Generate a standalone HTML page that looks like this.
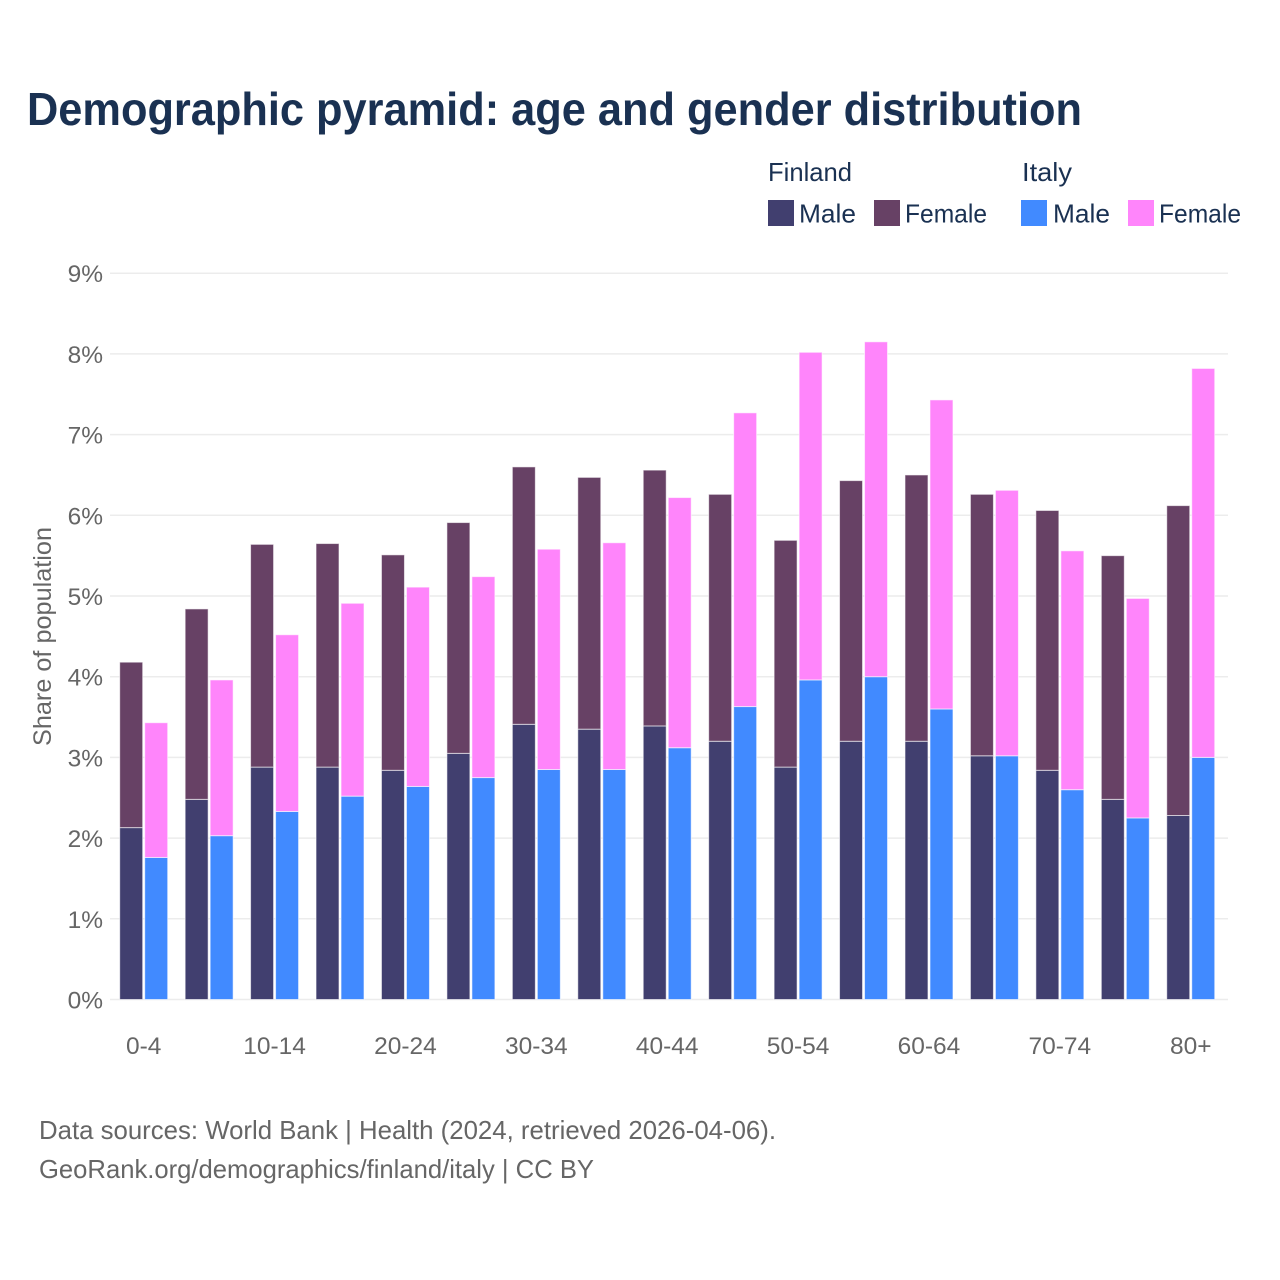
<!DOCTYPE html>
<html lang="en">
<head>
<meta charset="utf-8">
<title>Demographic pyramid</title>
<style>
html,body{margin:0;padding:0;background:#fff;width:1280px;height:1280px;overflow:hidden}
svg{display:block;font-family:"Liberation Sans",sans-serif}
.legend{fill:#1a3152;font-size:26px}
.tick{fill:#666;font-size:24.5px}
.foot{fill:#666;font-size:26px}
</style>
</head>
<body>
<svg id="chart" width="1280" height="1280" viewBox="0 0 1280 1280" xmlns="http://www.w3.org/2000/svg">
  <rect width="1280" height="1280" fill="#fff"/>
  <text x="27" y="125" font-size="46" font-weight="700" fill="#1a3152" textLength="1055" lengthAdjust="spacingAndGlyphs">Demographic pyramid: age and gender distribution</text>
  <g>
    <text class="legend" x="768" y="181" textLength="84" lengthAdjust="spacingAndGlyphs">Finland</text>
    <text class="legend" x="1022" y="181" textLength="50" lengthAdjust="spacingAndGlyphs">Italy</text>
    <rect x="768" y="200" width="26" height="26" fill="#413f6f"/>
    <text class="legend" x="799" y="222.5" textLength="57" lengthAdjust="spacingAndGlyphs">Male</text>
    <rect x="874" y="200" width="26" height="26" fill="#674165"/>
    <text class="legend" x="905" y="222.5" textLength="82" lengthAdjust="spacingAndGlyphs">Female</text>
    <rect x="1021" y="200" width="26" height="26" fill="#418aff"/>
    <text class="legend" x="1053" y="222.5" textLength="57" lengthAdjust="spacingAndGlyphs">Male</text>
    <rect x="1128" y="200" width="26" height="26" fill="#ff85fb"/>
    <text class="legend" x="1159" y="222.5" textLength="82" lengthAdjust="spacingAndGlyphs">Female</text>
  </g>
  <g id="grid"></g>
  <g id="bars"></g>
  <g id="yticks"></g>
  <g id="xticks"></g>
  <text transform="translate(51,636.5) rotate(-90)" text-anchor="middle" font-size="25" fill="#666" textLength="219" lengthAdjust="spacingAndGlyphs">Share of population</text>
  <text class="foot" x="39" y="1139" textLength="737" lengthAdjust="spacingAndGlyphs">Data sources: World Bank | Health (2024, retrieved 2026-04-06).</text>
  <text class="foot" x="39" y="1178" textLength="555" lengthAdjust="spacingAndGlyphs">GeoRank.org/demographics/finland/italy | CC BY</text>
</svg>
<script>
const categories = ['0-4','5-9','10-14','15-19','20-24','25-29','30-34','35-39','40-44','45-49','50-54','55-59','60-64','65-69','70-74','75-79','80+'];
const finlandMale = [2.13,2.48,2.88,2.88,2.84,3.05,3.41,3.35,3.39,3.20,2.88,3.20,3.20,3.02,2.84,2.48,2.28];
const finlandFemale = [2.05,2.36,2.76,2.77,2.67,2.86,3.19,3.12,3.17,3.06,2.81,3.23,3.30,3.24,3.22,3.02,3.84];
const italyMale = [1.76,2.03,2.33,2.52,2.64,2.75,2.85,2.85,3.12,3.63,3.96,4.00,3.60,3.02,2.60,2.25,3.00];
const italyFemale = [1.67,1.93,2.19,2.39,2.47,2.49,2.73,2.81,3.10,3.64,4.06,4.15,3.83,3.29,2.96,2.72,4.82];
const yTickValues = [0,1,2,3,4,5,6,7,8,9];

const NS = 'http://www.w3.org/2000/svg';
function yScale(v){ return 999.5 - v * 80.7; }
function xGroup(i){ return 119.7 + i * 65.44; }
const barWidth = 23;
const barOffset = 25;

const gridG = document.getElementById('grid');
const yG = document.getElementById('yticks');
const xG = document.getElementById('xticks');
const barsG = document.getElementById('bars');

yTickValues.forEach(function(t){
  const line = document.createElementNS(NS,'line');
  
  
  line.setAttribute('x1', 110);
  line.setAttribute('x2', 1228);
  line.setAttribute('y1', yScale(t));
  line.setAttribute('y2', yScale(t));
  line.setAttribute('stroke', '#ececec');
  line.setAttribute('stroke-width', '1.5');
  gridG.appendChild(line);
  const label = document.createElementNS(NS,'text');
  
  
  label.setAttribute('class', 'tick');
  label.setAttribute('x', 103);
  label.setAttribute('y', yScale(t) + 9);
  label.setAttribute('text-anchor', 'end');
  label.textContent = t + '%';
  yG.appendChild(label);
});

function addBar(name, x, v0, v1, color){
  const r = document.createElementNS(NS,'rect');
  
  
  r.setAttribute('x', x);
  r.setAttribute('y', yScale(v1));
  r.setAttribute('width', barWidth);
  r.setAttribute('height', yScale(v0) - yScale(v1));
  r.setAttribute('fill', color);
  r.setAttribute('stroke', '#fff');
  r.setAttribute('stroke-opacity', '0.6');
  r.setAttribute('stroke-width', '1');
  barsG.appendChild(r);
}

categories.forEach(function(c, i){
  const x = xGroup(i);
  addBar('bar-finland-male', x, 0, finlandMale[i], '#413f6f');
  addBar('bar-finland-female', x, finlandMale[i], finlandMale[i] + finlandFemale[i], '#674165');
  addBar('bar-italy-male', x + barOffset, 0, italyMale[i], '#418aff');
  addBar('bar-italy-female', x + barOffset, italyMale[i], italyMale[i] + italyFemale[i], '#ff85fb');
  if (i % 2 === 0) {
    const label = document.createElementNS(NS,'text');
    
    
    label.setAttribute('class', 'tick');
    label.setAttribute('x', x + 24);
    label.setAttribute('y', 1054);
    label.setAttribute('text-anchor', 'middle');
    label.textContent = c;
    xG.appendChild(label);
  }
});
</script>
</body>
</html>
